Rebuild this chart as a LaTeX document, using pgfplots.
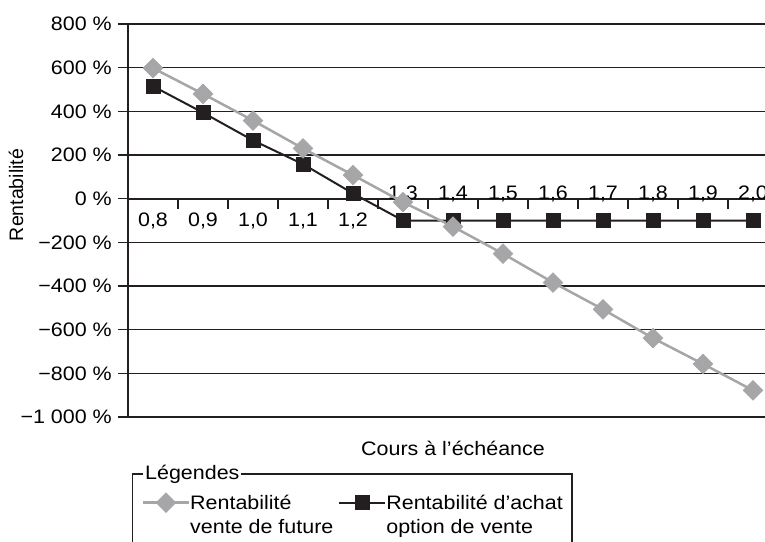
\documentclass[border=0pt]{standalone}
\usepackage{fontspec}
\setmainfont{Liberation Sans}[FakeStretch=1.1]
\newfontfamily\ylabfont{Liberation Sans}
\usepackage{pgfplots}
\pgfplotsset{compat=1.18}

\definecolor{futgray}{RGB}{166,166,168}
\definecolor{optblack}{RGB}{35,31,32}
\newcommand\chartfont{\fontsize{19.5}{24}\selectfont}

% x = index of the strike, 0 -> 0,8 ... 12 -> 2,0
\pgfplotstableread{
x  fut   opt
0  598   515
1  480   394
2  358   267
3  230   158
4  108   24
5  -16   -100
6  -128  -100
7  -252  -100
8  -384  -100
9  -507  -100
10 -639  -100
11 -757  -100
12 -878  -100
}\rentab

\begin{document}
\begin{tikzpicture}
\useasboundingbox (-128pt,-124pt) rectangle (637pt,417pt);
\begin{axis}[
    at={(0pt,0pt)}, anchor=south west,
    scale only axis, width=650pt, height=393pt,
    font=\chartfont,
    tick label style={font=\chartfont},
    label style={font=\chartfont},
    clip=false,
    xmin=-0.5, xmax=12.5,
    ymin=-1000, ymax=800,
    axis x line*=middle, axis y line*=left,
    axis line style={line width=1.8pt, optblack},
    tick align=outside,
    major tick length=10pt, minor tick length=10pt,
    tick style={line width=1.2pt, optblack},
    major x tick style={draw=none},
    xtick={0,...,4},
    xticklabels={{0,8},{0,9},{1,0},{1,1},{1,2}},
    extra x ticks={5,...,12},
    extra x tick labels={{1,3},{1,4},{1,5},{1,6},{1,7},{1,8},{1,9},{2,0}},
    extra x tick style={major x tick style={draw=none}, xticklabel style={yshift=27pt}},
    xticklabel style={anchor=base, yshift=-18pt},
    minor xtick={0.5,1.5,...,11.5},
    ytick={-1000,-800,...,800},
    yticklabels={−1 000 \%,−800 \%,−600 \%,−400 \%,−200 \%,0 \%,200 \%,400 \%,600 \%,800 \%},
    yticklabel style={anchor=east, inner xsep=0pt, xshift=-6pt},
    ymajorgrids,
    grid style={line width=1.2pt, optblack},
    xlabel={Cours à l’échéance},
    xlabel style={at={(axis description cs:0.5,-0.0967)}, anchor=base},
    ylabel={\ylabfont Rentabilité},
    ylabel style={at={(axis description cs:-0.1615,0.565)}, anchor=base},
    legend columns=2,
    reverse legend,
    legend image code/.code={\draw[mark repeat=2,mark phase=2,#1] plot coordinates {(0pt,7pt) (23pt,7pt) (46pt,7pt)};},
    legend style={at={(axis description cs:0,0)}, anchor=north west, xshift=4pt, yshift=-56pt,
        font=\chartfont,
        draw=optblack, line width=1.5pt, inner xsep=9pt, inner ysep=19pt,
        cells={anchor=base west}, nodes={inner sep=0pt, text depth=45pt},
        /tikz/every even column/.append style={column sep=5pt}},
]
\addplot[optblack, line width=2pt, mark=square*, mark size=7pt,
    mark options={solid, line width=0.5pt, fill=optblack}]
    table[x=x, y=opt] {\rentab};
\addlegendentry{\begin{tabular}[t]{@{}l@{}}Rentabilité d’achat\\option de vente\end{tabular}}
\addplot[futgray, line width=2.5pt, mark=square*, mark size=7pt,
    mark options={solid, rotate=45, line width=0.5pt, fill=futgray}]
    table[x=x, y=fut] {\rentab};
\addlegendentry{\begin{tabular}[t]{@{}l@{}}Rentabilité\\vente de future\end{tabular}}
\end{axis}
\node[fill=white, inner xsep=2pt, inner ysep=1pt, anchor=base west,
    font=\chartfont] at (15pt,-62.5pt) {Légendes};
\end{tikzpicture}
\end{document}
